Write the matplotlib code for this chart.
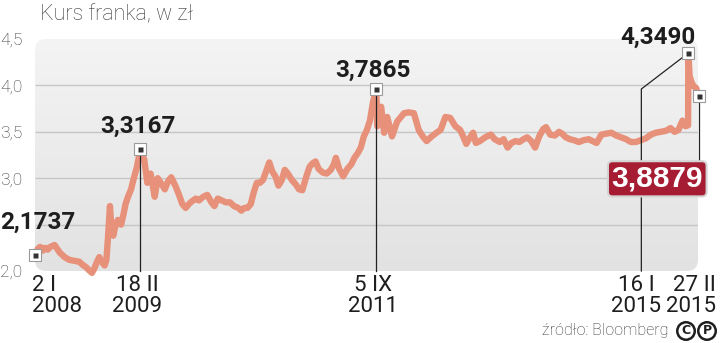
import matplotlib
matplotlib.use("Agg")
import matplotlib.pyplot as plt
import matplotlib.dates as mdates
from matplotlib.patches import FancyBboxPatch
from matplotlib.transforms import IdentityTransform
from matplotlib.colors import LinearSegmentedColormap
import numpy as np
import pandas as pd

title = "Kurs franka, w zł"
source = "źródło: Bloomberg"

# CHF/PLN
dates = [
    "2008-01-02", "2008-01-12", "2008-01-21", "2008-02-01", "2008-02-09", "2008-02-20",
    "2008-03-01", "2008-03-18", "2008-03-28", "2008-04-07", "2008-04-26", "2008-05-15",
    "2008-06-03", "2008-06-23", "2008-07-05", "2008-07-20", "2008-07-31", "2008-08-12",
    "2008-08-22", "2008-09-01", "2008-09-10", "2008-09-19", "2008-10-01", "2008-10-08",
    "2008-10-14", "2008-10-22", "2008-10-28", "2008-11-04", "2008-11-12", "2008-11-22",
    "2008-12-05", "2008-12-15", "2008-12-22", "2009-01-01", "2009-01-13", "2009-01-24",
    "2009-02-05", "2009-02-12", "2009-02-18",
    "2009-03-06", "2009-03-18", "2009-03-31", "2009-04-16", "2009-04-28", "2009-05-10",
    "2009-05-26", "2009-06-08", "2009-06-20", "2009-07-06", "2009-07-18", "2009-08-03",
    "2009-08-16", "2009-08-28", "2009-09-09", "2009-09-25", "2009-10-07", "2009-10-24",
    "2009-11-09", "2009-11-25", "2009-12-07", "2009-12-20", "2010-01-05", "2010-01-21",
    "2010-02-06", "2010-02-22", "2010-03-11", "2010-03-23", "2010-04-04", "2010-04-16",
    "2010-04-29", "2010-05-11", "2010-05-23", "2010-06-04", "2010-06-16", "2010-06-29",
    "2010-07-11", "2010-07-23", "2010-08-04", "2010-08-16", "2010-08-29", "2010-09-10",
    "2010-09-22", "2010-10-08", "2010-10-24", "2010-11-05", "2010-11-18", "2010-12-04",
    "2010-12-16", "2010-12-28", "2011-01-09", "2011-01-21", "2011-02-07", "2011-02-22",
    "2011-03-10", "2011-03-22", "2011-03-30", "2011-04-12", "2011-04-28", "2011-05-14",
    "2011-05-30", "2011-06-11", "2011-06-24", "2011-07-06", "2011-07-18", "2011-07-30",
    "2011-08-11", "2011-08-23", "2011-09-05",
    "2011-09-09", "2011-09-24", "2011-10-06", "2011-10-18", "2011-11-06", "2011-11-26",
    "2011-12-23", "2012-01-11", "2012-01-31", "2012-02-19", "2012-03-06", "2012-03-21",
    "2012-04-10", "2012-04-29", "2012-05-15", "2012-06-03", "2012-06-22", "2012-07-12",
    "2012-07-31", "2012-08-12", "2012-08-24", "2012-09-08", "2012-09-20", "2012-10-01",
    "2012-10-17", "2012-11-06", "2012-11-29", "2012-12-14", "2013-01-03", "2013-01-18",
    "2013-02-03", "2013-02-18", "2013-03-06", "2013-03-21", "2013-04-06", "2013-04-21",
    "2013-05-07", "2013-05-22", "2013-06-07", "2013-06-23", "2013-07-04", "2013-07-20",
    "2013-08-08", "2013-08-24", "2013-09-05", "2013-09-20", "2013-10-06", "2013-10-21",
    "2013-11-10", "2013-11-29", "2013-12-19", "2014-01-03", "2014-01-19", "2014-02-07",
    "2014-02-26", "2014-03-18", "2014-04-06", "2014-04-26", "2014-05-15", "2014-06-03",
    "2014-06-22", "2014-07-13", "2014-08-01", "2014-08-21", "2014-09-09", "2014-09-28",
    "2014-10-18", "2014-11-06", "2014-11-22", "2014-12-07", "2014-12-23", "2015-01-04",
    "2015-01-14", "2015-01-15", "2015-01-20", "2015-01-28", "2015-02-05", "2015-02-15",
    "2015-02-20", "2015-02-27",
]
rates = [
    2.1737, 2.24, 2.26, 2.22, 2.25, 2.23,
    2.26, 2.28, 2.24, 2.20, 2.15, 2.12,
    2.11, 2.10, 2.07, 2.04, 2.01, 1.98,
    2.03, 2.10, 2.15, 2.10, 2.06, 2.12,
    2.35, 2.70, 2.45, 2.38, 2.48, 2.55,
    2.50, 2.62, 2.72, 2.80, 2.88, 3.00,
    3.12, 3.22, 3.3167,
    3.20, 2.95, 3.05, 2.80, 3.00, 2.95,
    2.88, 2.97, 3.01, 2.92, 2.84, 2.72,
    2.68, 2.72, 2.75, 2.78, 2.76, 2.80,
    2.82, 2.74, 2.70, 2.78, 2.76, 2.74,
    2.74, 2.70, 2.68, 2.65, 2.68, 2.68,
    2.72, 2.85, 2.95, 2.95, 2.98, 3.08,
    3.17, 3.07, 3.02, 2.92, 2.98, 3.09,
    3.05, 2.98, 2.93, 2.88, 2.87, 3.02,
    3.12, 3.16, 3.18, 3.10, 3.06, 3.05,
    3.09, 3.15, 3.22, 3.10, 3.02, 3.10,
    3.15, 3.22, 3.27, 3.33, 3.45, 3.52,
    3.62, 3.82, 3.96,
    3.56, 3.77, 3.49, 3.66, 3.45, 3.61,
    3.70, 3.71, 3.70, 3.52, 3.45, 3.40,
    3.45, 3.49, 3.52, 3.66, 3.65, 3.56,
    3.52, 3.45, 3.37, 3.44, 3.49, 3.38,
    3.40, 3.44, 3.47, 3.42, 3.39, 3.42,
    3.33, 3.38, 3.40, 3.39, 3.42, 3.44,
    3.40, 3.33, 3.45, 3.53, 3.55, 3.47,
    3.46, 3.50, 3.48, 3.44, 3.42, 3.41,
    3.39, 3.41, 3.42, 3.40, 3.38, 3.47,
    3.48, 3.49, 3.46, 3.44, 3.42, 3.39,
    3.39, 3.41, 3.43, 3.47, 3.49, 3.50,
    3.51, 3.54, 3.50, 3.52, 3.62, 3.56,
    3.57, 4.349, 4.10, 4.03, 3.99, 3.97,
    3.92, 3.8879,
]

y_ticks = [2.0, 3.0, 3.5, 4.0, 4.5]
y_labels = ["2,0", "3,0", "3,5", "4,0", "4,5"]
grid_levels = [2.5, 3.0, 3.5, 4.0]

key_dates = ["2008-01-02", "2009-02-18", "2011-09-05", "2015-01-15", "2015-02-27"]
key_labels = ["2,1737", "3,3167", "3,7865", "4,3490", "3,8879"]
date_labels = ["2 I\n2008", "18 II\n2009", "5 IX\n2011", "16 I\n2015", "27 II\n2015"]

d = pd.to_datetime(dates)
kd = pd.to_datetime(key_dates)
kv = [rates[dates.index(k)] for k in key_dates]

W, H = 720, 343
fig = plt.figure(figsize=(W / 100, H / 100), dpi=100)
px0, py0, pw, ph = 35, 72, 663, 232
ax = fig.add_axes([px0 / W, py0 / H, pw / W, ph / H])
x0 = mdates.date2num(pd.Timestamp("2008-01-01"))
x1 = mdates.date2num(pd.Timestamp("2015-02-22"))

# rounded grey panel with a soft gradient
panel = FancyBboxPatch((px0, py0), pw, ph, boxstyle="round,pad=0,rounding_size=11",
                       transform=IdentityTransform(), fc="none", ec="none")
grad = np.linspace(0, 1, 256).reshape(-1, 1)
cmap = LinearSegmentedColormap.from_list("panel", ["#f4f4f4", "#e2e2e2"])
im = ax.imshow(grad, extent=[x0, x1, 2.0, 4.5], aspect="auto", cmap=cmap,
               origin="upper", zorder=0)
im.set_clip_path(panel)
ax.hlines(grid_levels, x0, x1, color="#c6c6c6", lw=1.0, zorder=1)

ax.set_xlim(x0, x1)
ax.set_ylim(2.0, 4.5)
for s in ax.spines.values():
    s.set_visible(False)
ax.patch.set_visible(False)
ax.set_xticks([])
ax.set_yticks(y_ticks, y_labels)
ax.tick_params(axis="y", length=0, pad=9, labelsize=12.5, labelcolor="#333333")
for t in ax.get_yticklabels():
    t.set_fontfamily("Roboto")
    t.set_fontweight("light")
    t.set_verticalalignment("center_baseline")

ax.plot(d, rates, color="#e8917a", lw=4.6, solid_joinstyle="round",
        solid_capstyle="round", zorder=3, clip_on=False)

# leader lines
lc = "#222222"
for i in (1, 2):
    ax.plot([kd[i], kd[i]], [kv[i], 1.995], color=lc, lw=0.9, zorder=4, clip_on=False)
ax.plot([kd[4], kd[4]], [kv[4], 3.2], color=lc, lw=0.9, zorder=4, clip_on=False)
fig.canvas.draw()
mx, my = ax.transData.transform((mdates.date2num(kd[3]), kv[3]))
ax.plot([mx, mx - 47, mx - 47], [my, my - 36, py0], color=lc, lw=0.9,
        transform=IdentityTransform(), zorder=4, clip_on=False)

# markers
ax.plot(kd, kv, "s", ms=8, mfc="white", mec="#9a9a9a", mew=0.8, zorder=6, clip_on=False)
ax.plot(kd, kv, "s", ms=3.6, mfc="#333333", mec="none", zorder=7, clip_on=False)

# value labels
bold = dict(family="Roboto", weight="bold", size=17.5, color="#1e1e1e")
offsets = [(-35, 33, "left"), (-2, 23, "center"), (-3, 19, "center"), (7, 16, "right")]
for i, (dx, dy, ha) in enumerate(offsets):
    ax.annotate(key_labels[i], (kd[i], kv[i]), xytext=(dx, dy), textcoords="offset pixels",
                ha=ha, va="center", zorder=8, annotation_clip=False, **bold)
ax.annotate(key_labels[4], (kd[4], kv[4]), xytext=(-42, -83), textcoords="offset pixels",
            ha="center", va="center", zorder=9, annotation_clip=False,
            family="Liberation Sans", weight="bold", size=21.5, color="white",
            bbox=dict(boxstyle="round,pad=0.12,rounding_size=0.15", fc="#a51c33",
                      ec="#d4d4d4", lw=1.5))

# date labels
dl = [(-3, "left", kd[0]), (-3, "center", kd[1]), (-3, "center", kd[2]),
      (-52, "center", kd[3]), (17, "right", kd[4])]
for lab, (dx, ha, dt) in zip(date_labels, dl):
    ax.annotate(lab, (dt, 2.0), xytext=(dx, -4), textcoords="offset pixels",
                ha=ha, va="top", multialignment=ha,
                family="Roboto", size=16, color="#1e1e1e", linespacing=1.0,
                annotation_clip=False)

fig.text(40 / W, 1 - 20 / H, title, family="Roboto", weight="light", size=15.5,
         color="#3a3a3a", va="baseline", ha="left")
fig.text(668 / W, 1 - 331 / H, source, family="Roboto", weight="light", size=11.5,
         color="#333333", va="center", ha="right")
for cx, ch in ((686, "C"), (707, "P")):
    fig.text(cx / W, 1 - 331 / H, ch, family="DejaVu Sans", weight="bold", size=9,
             color="#1e1e1e", ha="center", va="center",
             bbox=dict(boxstyle="circle,pad=0.18", fc="white", ec="#1e1e1e", lw=1.8))

fig.savefig("out.png", dpi=100)
